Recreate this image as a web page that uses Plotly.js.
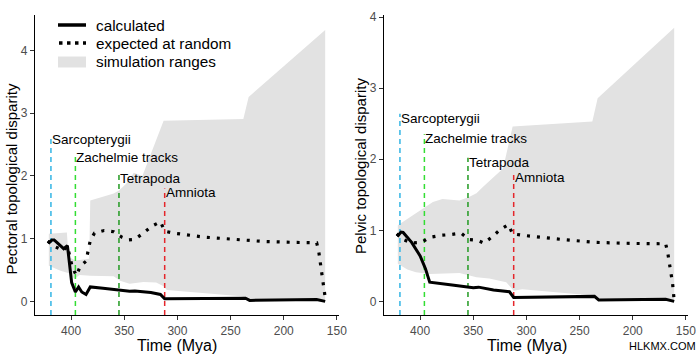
<!DOCTYPE html>
<html>
<head>
<meta charset="utf-8">
<script src="https://cdn.plot.ly/plotly-3.0.1.min.js"></script>
<style>html,body{margin:0;padding:0;background:#fff;}#chart{width:700px;height:355px;}</style>
</head>
<body>
<div id="chart"></div>
<script>
// ---------- Pectoral (left panel) ----------
const pecCalcT = [422, 420.5, 418, 416, 407, 403.5, 399.5, 396, 393, 390, 386, 382, 370, 354, 345, 340, 325, 316, 312, 236, 232, 169, 161];
const pecCalcV = [0.96, 0.94, 0.98, 0.98, 0.84, 0.89, 0.30, 0.15, 0.23, 0.15, 0.11, 0.23, 0.21, 0.175, 0.16, 0.165, 0.14, 0.11, 0.04, 0.05, 0.015, 0.03, 0.0];
const pecRandT = [422, 415, 407, 403.5, 399, 395, 391.5, 386, 384, 382, 378, 369, 360, 352, 346, 340, 332, 324, 316, 312, 304, 275, 247, 219, 188, 169, 167, 165, 163, 161.5, 160.5];
const pecRandV = [0.96, 0.87, 0.81, 0.88, 0.55, 0.41, 0.56, 0.64, 0.81, 0.97, 1.09, 1.13, 1.11, 1.02, 0.98, 0.99, 1.09, 1.20, 1.27, 1.12, 1.09, 1.025, 0.99, 0.955, 0.94, 0.935, 0.79, 0.55, 0.30, 0.13, 0.0];
const pecUpT = [421, 404, 402.5, 396, 383, 382, 360, 355, 348, 341, 333, 325, 313, 238, 233, 161];
const pecUpV = [1.08, 1.10, 0.71, 0.65, 0.68, 1.61, 1.72, 1.77, 1.88, 2.05, 2.0, 2.35, 2.88, 2.91, 3.26, 4.33];
const pecLoT = [421, 410, 402, 397, 392, 382, 360, 354, 345, 332, 320, 313, 310, 300, 280, 260, 240, 233, 200, 170, 161];
const pecLoV = [0.57, 0.49, 0.45, 0.36, 0.42, 0.41, 0.40, 0.33, 0.28, 0.31, 0.30, 0.24, 0.18, 0.17, 0.14, 0.11, 0.08, 0.04, 0.035, 0.03, 0.0];

// ---------- Pelvic (right panel) ----------
const pelCalcT = [422, 420.5, 418, 416, 408, 400, 395, 391, 370, 350, 345, 331, 316, 312, 236, 232, 169, 161];
const pelCalcV = [0.95, 0.93, 0.975, 0.97, 0.83, 0.64, 0.46, 0.27, 0.23, 0.19, 0.20, 0.16, 0.135, 0.056, 0.07, 0.02, 0.03, 0.0];
const pelRandT = [422, 416, 408, 399, 391, 380, 371, 361.5, 354, 346, 340, 332, 325.5, 317, 313, 304, 266, 235, 200, 169, 167, 165.5, 164, 162.5, 161.5, 161];
const pelRandV = [0.95, 0.87, 0.82, 0.83, 0.90, 0.93, 0.94, 0.96, 0.87, 0.86, 0.82, 0.91, 1.0, 1.08, 0.95, 0.93, 0.87, 0.83, 0.815, 0.81, 0.68, 0.54, 0.39, 0.25, 0.09, 0.0];
const pelUpT = [421, 416, 405, 397, 388, 379, 363, 354, 347, 341, 332, 322, 313, 238, 233, 161];
const pelUpV = [1.07, 1.12, 1.22, 1.30, 1.40, 1.44, 1.42, 1.47, 1.52, 1.61, 1.73, 1.87, 2.46, 2.53, 2.86, 3.85];
const pelLoT = [421, 412, 404, 391, 363, 347, 335, 319, 312, 304, 270, 235, 232, 161];
const pelLoV = [0.53, 0.45, 0.41, 0.385, 0.40, 0.34, 0.32, 0.27, 0.15, 0.17, 0.13, 0.08, 0.04, 0.01];

// ---------- Events ----------
const eventNames = ["Sarcopterygii", "Zachelmie tracks", "Tetrapoda", "Amniota"];
const eventTimes = [419, 396, 355, 312];
const eventTops = [2.64, 2.35, 2.02, 1.80];
const eventColors = ["#33B5E5", "#33DD33", "#229A22", "#E5262B"];

// ---------- Texts ----------
const legendLabels = ["calculated", "expected at random", "simulation ranges"];
const xTitle = "Time (Mya)";
const yTitles = ["Pectoral topological disparity", "Pelvic topological disparity"];
const tickVals = [400, 350, 300, 250, 200, 150];
const yTicks = [0, 1, 2, 3, 4];

const FONT = "Liberation Sans, Arial, sans-serif";
const ribbonColor = "#E2E2E2";
const traces = [];
const annotations = [];
const shapes = [];

function panel(xa, ya, upT, upV, loT, loV, calcT, calcV, randT, randV, yMin) {
  traces.push({
    type: "scatter", mode: "lines", xaxis: xa, yaxis: ya,
    x: upT.concat(loT.slice().reverse()), y: upV.concat(loV.slice().reverse()),
    fill: "toself", fillcolor: ribbonColor, line: {width: 0, color: ribbonColor},
    name: legendLabels[2], showlegend: false, hoverinfo: "skip"
  });
  for (let i = 0; i < eventNames.length; i++) {
    traces.push({
      type: "scatter", mode: "lines", xaxis: xa, yaxis: ya,
      x: [eventTimes[i], eventTimes[i]], y: [yMin, eventTops[i]],
      line: {color: eventColors[i], width: 1.5, dash: "5px,4px"},
      showlegend: false, hoverinfo: "skip"
    });
    annotations.push({
      xref: xa, yref: ya, x: eventTimes[i], y: eventTops[i] - 0.06,
      text: eventNames[i], showarrow: false, xanchor: "left", yanchor: "middle", xshift: -1,
      font: {family: FONT, size: 13.5, color: "#000"}
    });
  }
  traces.push({
    type: "scatter", mode: "lines", xaxis: xa, yaxis: ya, x: calcT, y: calcV,
    line: {color: "#000", width: 3}, name: legendLabels[0], showlegend: false
  });
  traces.push({
    type: "scatter", mode: "lines", xaxis: xa, yaxis: ya, x: randT, y: randV,
    line: {color: "#000", width: 3.2, dash: "3px,7px"}, name: legendLabels[1], showlegend: false
  });
}

const yMinL = -0.2175, yMinR = -0.192;
panel("x", "y", pecUpT, pecUpV, pecLoT, pecLoV, pecCalcT, pecCalcV, pecRandT, pecRandV, yMinL);
panel("x2", "y2", pelUpT, pelUpV, pelLoT, pelLoV, pelCalcT, pelCalcV, pelRandT, pelRandV, yMinR);

// helpers for pixel -> paper coords
const W = 700, H = 355;
const px = v => v / W, py = v => 1 - v / H;

// manual legend (key samples + labels)
const legRows = [25, 43, 62];
shapes.push({type: "line", xref: "paper", yref: "paper", x0: px(58), x1: px(86), y0: py(legRows[0]), y1: py(legRows[0]),
  line: {color: "#000", width: 3.5}});
shapes.push({type: "line", xref: "paper", yref: "paper", x0: px(59), x1: px(86), y0: py(legRows[1]), y1: py(legRows[1]),
  line: {color: "#000", width: 3.5, dash: "3.5px,4.5px"}});
shapes.push({type: "rect", xref: "paper", yref: "paper", x0: px(58), x1: px(86), y0: py(legRows[2] - 5.5), y1: py(legRows[2] + 5.5),
  fillcolor: ribbonColor, line: {width: 0}});
for (let i = 0; i < legendLabels.length; i++) {
  annotations.push({xref: "paper", yref: "paper", x: px(94), y: py(legRows[i]), text: legendLabels[i],
    showarrow: false, xanchor: "left", yanchor: "middle", font: {family: FONT, size: 15.3, color: "#000"}});
}

// axis titles
[[177, 345], [527, 345]].forEach(p => annotations.push({
  xref: "paper", yref: "paper", x: px(p[0]), y: py(p[1]), text: xTitle, showarrow: false,
  xanchor: "center", yanchor: "middle", font: {family: FONT, size: 16, color: "#000"}
}));
[[10.5, 179], [360.5, 166.5]].forEach((p, i) => annotations.push({
  xref: "paper", yref: "paper", x: px(p[0]), y: py(p[1]), text: yTitles[i], showarrow: false,
  textangle: -90, xanchor: "center", yanchor: "middle", font: {family: FONT, size: 15, color: "#000"}
}));

annotations.push({
  xref: "paper", yref: "paper", x: px(662), y: py(346), text: "HLKMX.COM",
  showarrow: false, xanchor: "center", yanchor: "middle",
  font: {family: FONT, size: 11, color: "#000"}
});

function xAxis(domain, anchor) {
  return {
    domain: domain, anchor: anchor, range: [434, 148], tickvals: tickVals,
    showline: true, linecolor: "#000", linewidth: 1.1, showgrid: false, zeroline: false,
    ticks: "outside", ticklen: 4, tickcolor: "#333", tickwidth: 1,
    tickfont: {family: FONT, size: 12, color: "#4D4D4D"}
  };
}
function yAxis(range, anchor) {
  return {
    domain: [40 / 355, 340 / 355], anchor: anchor, range: range, tickvals: yTicks,
    showline: true, linecolor: "#000", linewidth: 1.1, showgrid: false, zeroline: false,
    ticks: "outside", ticklen: 4, tickcolor: "#333", tickwidth: 1,
    tickfont: {family: FONT, size: 12, color: "#4D4D4D"}
  };
}

const layout = {
  width: 700, height: 355,
  margin: {l: 0, r: 0, t: 0, b: 0},
  paper_bgcolor: "#fff", plot_bgcolor: "#fff",
  showlegend: false,
  xaxis: xAxis([35 / 700, 339 / 700], "y"),
  yaxis: yAxis([yMinL, 4.5675], "x"),
  xaxis2: xAxis([384 / 700, 688 / 700], "y2"),
  yaxis2: yAxis([yMinR, 4.03], "x2"),
  annotations: annotations,
  shapes: shapes
};

Plotly.newPlot("chart", traces, layout, {staticPlot: true, displayModeBar: false});
</script>
</body>
</html>
